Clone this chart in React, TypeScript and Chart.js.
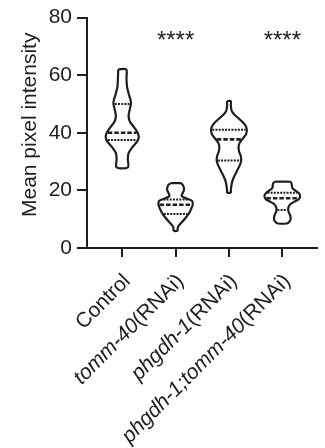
import React, { useEffect, useRef } from "react";
import { Chart, registerables } from "chart.js";

Chart.register(...registerables);

// ---- data ----
const categories = ["Control", "tomm-40(RNAi)", "phgdh-1(RNAi)", "phgdh-1;tomm-40(RNAi)"];
const yTicks = [0, 20, 40, 60, 80];
const significance = ["", "****", "", "****"];

// violin profiles: y values (top to bottom) and half-widths (x units)
const controlY = [62, 59, 56, 53, 50.5, 48, 46, 44, 42, 40, 38.5, 37, 35, 33, 31, 28];
const controlW = [0.075, 0.08, 0.09, 0.13, 0.165, 0.14, 0.12, 0.14, 0.22, 0.29, 0.31, 0.28, 0.19, 0.12, 0.105, 0.105];

const tommY = [22.5, 22, 21, 20, 19, 18, 17.2, 16.3, 15, 13.5, 12, 10.5, 9, 8, 7, 6];
const tommW = [0.09, 0.13, 0.155, 0.155, 0.13, 0.115, 0.2, 0.31, 0.32, 0.29, 0.25, 0.19, 0.12, 0.07, 0.04, 0.035];

const phgdhY = [51, 49.5, 48, 47, 46, 45, 44, 42.5, 41, 39.5, 38, 36.5, 35, 33.5, 32, 30.5, 29, 27.5, 26, 24.5, 23, 21.5, 20, 19.3];
const phgdhW = [0.035, 0.035, 0.045, 0.07, 0.12, 0.18, 0.24, 0.31, 0.335, 0.32, 0.26, 0.2, 0.18, 0.19, 0.22, 0.23, 0.21, 0.17, 0.13, 0.09, 0.06, 0.045, 0.035, 0.035];

const doubleY = [23, 22.3, 21.5, 20.8, 20, 19.2, 18.4, 17.6, 16.8, 16, 15.2, 14.4, 13.6, 12.8, 12, 11.2, 10.4, 9.6, 8.9, 8.5];
const doubleW = [0.15, 0.175, 0.18, 0.19, 0.24, 0.3, 0.33, 0.33, 0.3, 0.22, 0.15, 0.12, 0.11, 0.115, 0.13, 0.15, 0.155, 0.15, 0.12, 0.08];

// quartiles per group: q3, median, q1
const q3Values = [50, 16.8, 41.1, 19.2];
const medianValues = [40, 15, 37.7, 17.3];
const q1Values = [37.5, 11.8, 30.4, 13.2];

const profilesY = [controlY, tommY, phgdhY, doubleY];
const profilesW = [controlW, tommW, phgdhW, doubleW];

const INK = "#1e1e1e";
const FONT = "'Liberation Sans', Arial, Helvetica, sans-serif";

function outline(i: number) {
  const ys = profilesY[i];
  const ws = profilesW[i];
  const pts: { x: number; y: number }[] = [];
  pts.push({ x: i - ws[0], y: ys[0] });
  for (let k = 0; k < ys.length; k++) pts.push({ x: i + ws[k], y: ys[k] });
  for (let k = ys.length - 1; k >= 0; k--) pts.push({ x: i - ws[k], y: ys[k] });
  return pts;
}

function widthAt(i: number, y: number) {
  const ys = profilesY[i];
  const ws = profilesW[i];
  for (let k = 0; k < ys.length - 1; k++) {
    const a = ys[k], b = ys[k + 1];
    if (y <= a && y >= b) {
      const t = (a - y) / (a - b);
      return ws[k] + (ws[k + 1] - ws[k]) * t;
    }
  }
  return ws[ws.length - 1];
}

function hline(i: number, y: number, inset: number) {
  const w = widthAt(i, y) - inset;
  return [
    { x: i - w, y },
    { x: i + w, y },
  ];
}

function labelParts(label: string): { text: string; italic: boolean }[] {
  const idx = label.indexOf("(RNAi)");
  if (idx < 0) return [{ text: label, italic: false }];
  return [
    { text: label.slice(0, idx), italic: true },
    { text: label.slice(idx), italic: false },
  ];
}

const textPlugin = {
  id: "texts",
  afterDraw(chart: any) {
    const ctx = chart.ctx as CanvasRenderingContext2D;
    const xs = chart.scales.x;
    const ys = chart.scales.y;
    const area = chart.chartArea;
    ctx.save();
    ctx.fillStyle = INK;

    // y-axis title
    ctx.save();
    ctx.translate(36, (area.top + area.bottom) / 2 - 8);
    ctx.rotate(-Math.PI / 2);
    ctx.font = `21px ${FONT}`;
    ctx.textAlign = "center";
    ctx.textBaseline = "alphabetic";
    ctx.fillText("Mean pixel intensity", 0, 0);
    ctx.restore();

    // significance
    ctx.font = `24px ${FONT}`;
    ctx.textAlign = "center";
    ctx.textBaseline = "alphabetic";
    significance.forEach((s, i) => {
      if (!s) return;
      ctx.fillText(s, xs.getPixelForValue(i), ys.getPixelForValue(69.3));
    });

    // x labels rotated
    categories.forEach((label, i) => {
      const parts = labelParts(label);
      const px = xs.getPixelForValue(i);
      ctx.save();
      ctx.translate(px + 5, area.bottom + 30);
      ctx.rotate(-Math.PI / 4);
      ctx.textBaseline = "middle";
      ctx.textAlign = "left";
      let total = 0;
      const widths = parts.map((p) => {
        ctx.font = `${p.italic ? "italic " : ""}21px ${FONT}`;
        const w = ctx.measureText(p.text).width;
        total += w;
        return w;
      });
      let cx = -total;
      parts.forEach((p, k) => {
        ctx.font = `${p.italic ? "italic " : ""}21px ${FONT}`;
        ctx.fillText(p.text, cx, 0);
        cx += widths[k];
      });
      ctx.restore();
    });

    ctx.restore();
  },
};

export default function App() {
  const ref = useRef<HTMLCanvasElement | null>(null);

  useEffect(() => {
    document.body.style.margin = "0";
    const canvas = ref.current;
    if (!canvas) return;

    const datasets: any[] = [];
    categories.forEach((_, i) => {
      datasets.push({
        data: outline(i),
        borderColor: INK,
        borderWidth: 2.2,
        pointRadius: 0,
        tension: 0.3,
        fill: false,
        showLine: true,
      });
      datasets.push({
        data: hline(i, q3Values[i], 0.02),
        borderColor: INK,
        borderWidth: 2,
        borderDash: [2, 1.2],
        pointRadius: 0,
        showLine: true,
      });
      datasets.push({
        data: hline(i, q1Values[i], 0.02),
        borderColor: INK,
        borderWidth: 2,
        borderDash: [2, 1.2],
        pointRadius: 0,
        showLine: true,
      });
      datasets.push({
        data: hline(i, medianValues[i], 0.02),
        borderColor: INK,
        borderWidth: 2.6,
        borderDash: [4.5, 2],
        pointRadius: 0,
        showLine: true,
      });
    });

    const chart = new Chart(canvas, {
      type: "scatter",
      data: { datasets },
      plugins: [textPlugin],
      options: {
        animation: false,
        responsive: false,
        layout: { padding: { top: 17, right: 8, left: 0, bottom: 0 } },
        plugins: { legend: { display: false }, tooltip: { enabled: false } },
        scales: {
          x: {
            type: "linear",
            min: -0.66,
            max: 3.65,
            afterBuildTicks: (scale: any) => {
              scale.ticks = categories.map((_, i) => ({ value: i }));
            },
            afterFit: (scale: any) => {
              scale.height = 200;
            },
            ticks: { callback: () => "", font: { size: 1 } },
            grid: {
              drawOnChartArea: false,
              drawTicks: true,
              tickLength: 9,
              color: INK,
              lineWidth: 2,
            },
            border: { display: true, color: INK, width: 2 },
          },
          y: {
            min: 0,
            max: 80,
            afterBuildTicks: (scale: any) => {
              scale.ticks = yTicks.map((v) => ({ value: v }));
            },
            afterFit: (scale: any) => {
              scale.width = 87;
            },
            ticks: {
              color: INK,
              font: { size: 21, family: FONT },
              padding: 5,
            },
            grid: {
              drawOnChartArea: false,
              drawTicks: true,
              tickLength: 10,
              color: INK,
              lineWidth: 2,
            },
            border: { display: true, color: INK, width: 2 },
          },
        },
      },
    });
    return () => chart.destroy();
  }, []);

  return (
    <div style={{ width: 325, height: 448 }}>
      <canvas ref={ref} width={325} height={448} style={{ display: "block" }} />
    </div>
  );
}
